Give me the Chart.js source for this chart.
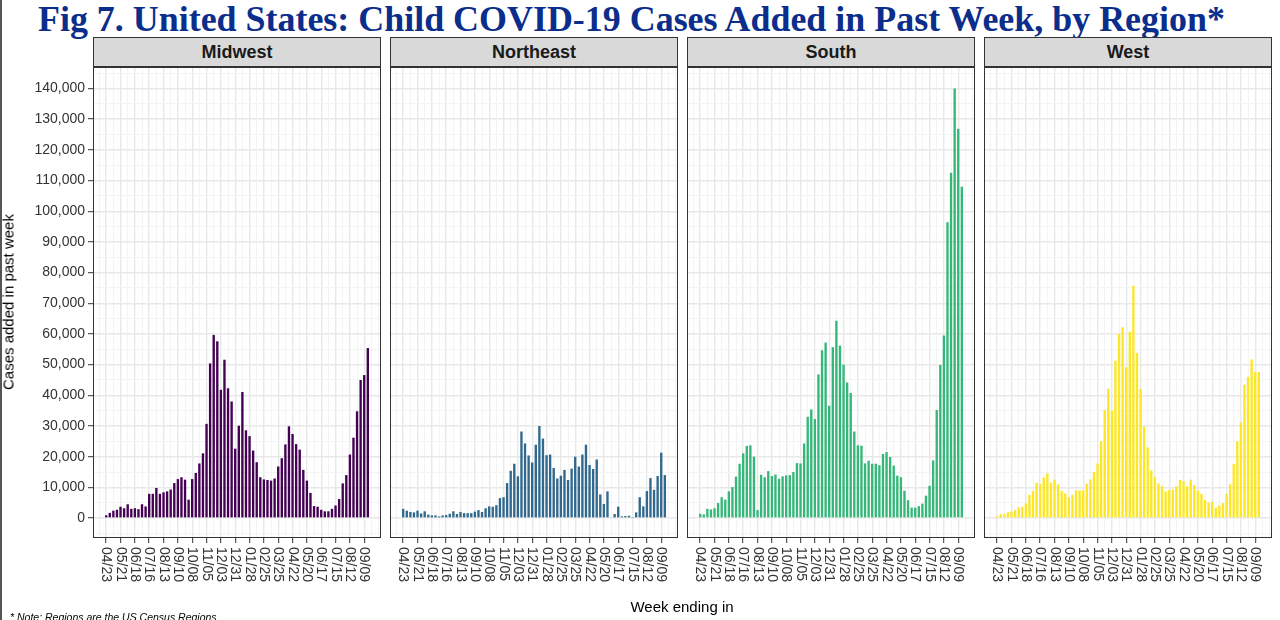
<!DOCTYPE html>
<html lang="en">
<head>
<meta charset="UTF-8">
<title>Fig 7. United States: Child COVID-19 Cases Added in Past Week, by Region</title>
<script src="https://cdn.jsdelivr.net/npm/chart.js@4"></script>
<style>
  body { margin: 0; width: 1280px; height: 620px; overflow: hidden; background: #fff; position: relative;
         font-family: "Liberation Sans", Arial, sans-serif; }
  .abs { position: absolute; }
  #edge { left: 0; top: 0; width: 2px; height: 620px; background: #555; }
  #title { left: 38px; top: 3px; font: bold 32px/32px "Liberation Serif", serif; color: #0b2d8b; white-space: nowrap; }
  .strip { top: 37px; width: 288px; height: 30px; box-sizing: border-box; border: 1px solid #333; background: #d9d9d9;
           font-weight: bold; font-size: 18px; line-height: 28px; color: #1a1a1a; text-align: center; }
  #ytitle { left: 8px; top: 302px; font-size: 15px; color: #000; white-space: nowrap;
            transform: translate(-50%, -50%) rotate(-90deg); }
  #xtitle { left: 682px; top: 606px; font-size: 15px; color: #000; white-space: nowrap; transform: translate(-50%, -50%); }
  #note { left: 10px; top: 611px; font-size: 10.5px; font-style: italic; color: #000; white-space: nowrap; }
</style>
</head>
<body>
<div id="edge" class="abs"></div>
<div id="title" class="abs">Fig 7. United States: Child COVID-19 Cases Added in Past Week, by Region*</div>

<div class="abs strip" style="left:93px">Midwest</div>
<div class="abs strip" style="left:390px">Northeast</div>
<div class="abs strip" style="left:687px">South</div>
<div class="abs strip" style="left:984px">West</div>

<canvas id="c0" class="abs" width="381" height="553" style="left:0;top:67px"></canvas>
<canvas id="c1" class="abs" width="288" height="553" style="left:390px;top:67px"></canvas>
<canvas id="c2" class="abs" width="288" height="553" style="left:687px;top:67px"></canvas>
<canvas id="c3" class="abs" width="288" height="553" style="left:984px;top:67px"></canvas>

<div id="ytitle" class="abs">Cases added in past week</div>
<div id="xtitle" class="abs">Week ending in</div>
<div id="note" class="abs">* Note: Regions are the US Census Regions</div>

<script>
// weekly bars, week ending 04/23/2020 ... 09/16/2021 (index = weeks since 04/23/2020)
const tickLabels = ['04/23', '05/21', '06/18', '07/16', '08/13', '09/10', '10/08', '11/05', '12/03', '12/31',
                    '01/28', '02/25', '03/25', '04/22', '05/20', '06/17', '07/15', '08/12', '09/09'];
const yTickValues = [0, 10000, 20000, 30000, 40000, 50000, 60000, 70000, 80000, 90000,
                     100000, 110000, 120000, 130000, 140000];

const regions = ['Midwest', 'Northeast', 'South', 'West'];
const regionColors = ['#440154', '#31688e', '#35b779', '#fde725'];

const midwest = [900, 1700, 2400, 2700, 3700, 3200, 4500, 3000, 3200, 2900,
                 4500, 3800, 7900, 7900, 9800, 7900, 8400, 8700, 9300, 11400,
                 12700, 13300, 12500, 6000, 12700, 14700, 17800, 21100, 30700, 50400,
                 59700, 57600, 41800, 51600, 42300, 38000, 22600, 30100, 41100, 28600,
                 26700, 22000, 18200, 13300, 12600, 12400, 12200, 12900, 16800, 19500,
                 24000, 29900, 27400, 24100, 22300, 15700, 12200, 8200, 3900, 3700,
                 2700, 2200, 2200, 3000, 4100, 6200, 11300, 14000, 20700, 26200,
                 34800, 45000, 46600, 55400];
const northeast = [3000, 2400, 2000, 1850, 2400, 1500, 2200, 1100, 870, 870,
                   540, 870, 980, 1400, 2200, 1300, 2000, 1600, 1600, 1600,
                   2100, 2600, 2000, 3200, 3800, 3700, 4200, 6500, 6800, 11400,
                   15400, 17700, 13600, 28200, 24300, 20400, 18100, 23900, 30000, 25900,
                   20500, 20700, 16300, 12900, 13800, 15700, 12400, 16100, 20000, 16800,
                   20700, 23900, 17300, 16000, 19100, 7700, 4600, 8700, 200, 1300,
                   3700, 540, 650, 760, 100, 1850, 6800, 3800, 8800, 13000,
                   9200, 13700, 21300, 14000];
const south = [1400, 1200, 3000, 2800, 3200, 4900, 6800, 6000, 8700, 10100,
               13500, 17700, 21100, 23500, 23700, 20000, 2600, 14100, 13300, 15300,
               13700, 14200, 12800, 13600, 13900, 14000, 15000, 17900, 17800, 24300,
               33000, 35400, 32300, 46800, 54700, 57200, 36600, 55700, 64300, 56200,
               50000, 44200, 40800, 28200, 23700, 23600, 17800, 18700, 17700, 17700,
               17200, 20900, 21500, 19900, 17100, 13800, 13300, 8900, 5800, 3400,
               3400, 3900, 4700, 7300, 10500, 18800, 35200, 49900, 59500, 96400,
               112500, 140000, 126900, 108000];
const west = [650, 1300, 1400, 1850, 2100, 2600, 3500, 3700, 4800, 7500,
              8800, 11500, 11200, 13200, 14600, 11500, 12500, 11000, 8800, 8000,
              6800, 7600, 9000, 9000, 9000, 11200, 12600, 15000, 17800, 25000,
              35200, 42100, 35000, 51300, 60000, 62200, 49200, 60700, 75700, 53800,
              42100, 29900, 23000, 15500, 13400, 11300, 10400, 8700, 9100, 9300,
              10300, 12400, 12000, 10300, 12500, 10800, 9000, 7900, 5900, 5100,
              5300, 3400, 4100, 4900, 7900, 11000, 17600, 25000, 31200, 43500,
              46000, 51700, 47600, 47600];

const series = [midwest, northeast, south, west];

// grid positions: every 2 weeks on x, every 5,000 on y (major on labelled ones)
const xGrid = [];
for (let v = -2; v <= 76; v += 2) xGrid.push(v);
const yGrid = [];
for (let v = -5000; v <= 145000; v += 5000) yGrid.push(v);

const CLEAR = 'rgba(0,0,0,0)';
const isXMajor = v => v % 4 === 0 && v >= 0 && v <= 72;
const isYMajor = v => yTickValues.includes(v);

const panelBorder = {
  id: 'panelBorder',
  afterDraw(chart) {
    const a = chart.chartArea, ctx = chart.ctx;
    ctx.save();
    ctx.strokeStyle = '#333';
    ctx.lineWidth = 1;
    ctx.strokeRect(a.left + 0.5, a.top + 0.5, a.right - a.left - 1, a.bottom - a.top - 1);
    ctx.restore();
  }
};

// date labels read top to bottom, as in the original
const weekLabels = {
  id: 'weekLabels',
  afterDraw(chart) {
    const ctx = chart.ctx, xs = chart.scales.x, y0 = chart.chartArea.bottom + 9;
    ctx.save();
    ctx.fillStyle = '#333';
    ctx.font = '14px "Liberation Sans", Arial, sans-serif';
    ctx.textAlign = 'left';
    ctx.textBaseline = 'middle';
    tickLabels.forEach((lab, i) => {
      ctx.save();
      ctx.translate(xs.getPixelForValue(i * 4), y0);
      ctx.rotate(Math.PI / 2);
      ctx.fillText(lab, 0, 0);
      ctx.restore();
    });
    ctx.restore();
  }
};

function makePanel(idx) {
  const first = idx === 0;
  new Chart(document.getElementById('c' + idx), {
    type: 'bar',
    data: {
      datasets: [{
        label: regions[idx],
        data: series[idx].map((v, i) => ({ x: i, y: v })),
        backgroundColor: regionColors[idx],
        borderWidth: 0,
        barPercentage: 0.66,
        categoryPercentage: 1
      }]
    },
    options: {
      responsive: false,
      animation: false,
      events: [],
      layout: { padding: 0 },
      plugins: { legend: { display: false }, tooltip: { enabled: false } },
      scales: {
        x: {
          type: 'linear', min: -3.68, max: 76.68, offset: false,
          afterBuildTicks: ax => { ax.ticks = xGrid.map(v => ({ value: v })); },
          afterFit: ax => { ax.height = 82; ax.paddingLeft = 0; ax.paddingRight = 0; },
          ticks: { display: false, autoSkip: false },
          border: { display: false },
          grid: {
            offset: false,
            color: c => isXMajor(c.tick.value) ? '#e8e8e8' : '#f1f1f1',
            lineWidth: c => isXMajor(c.tick.value) ? 1.4 : 0.8,
            tickColor: c => isXMajor(c.tick.value) ? '#333' : CLEAR,
            tickLength: 5, tickWidth: 1
          }
        },
        y: {
          min: -6500, max: 147000,
          afterBuildTicks: ax => { ax.ticks = yGrid.map(v => ({ value: v })); },
          afterFit: ax => { ax.width = first ? 93 : 0; ax.paddingTop = 0; ax.paddingBottom = 0; },
          ticks: {
            display: first, autoSkip: false, padding: 3, color: '#333',
            font: { family: '"Liberation Sans", Arial, sans-serif', size: 14 },
            callback: v => isYMajor(v) ? v.toLocaleString('en-US') : ''
          },
          border: { display: false },
          grid: {
            color: c => isYMajor(c.tick.value) ? '#e8e8e8' : '#f1f1f1',
            lineWidth: c => isYMajor(c.tick.value) ? 1.4 : 0.8,
            drawTicks: first,
            tickColor: c => isYMajor(c.tick.value) ? '#333' : CLEAR,
            tickLength: 5, tickWidth: 1
          }
        }
      }
    },
    plugins: [panelBorder, weekLabels]
  });
}

regions.forEach((r, i) => makePanel(i));

// stretch the title to the width it has in the figure
const title = document.getElementById('title');
const w = title.getBoundingClientRect().width;
title.style.fontSize = (32 * 1187 / w).toFixed(2) + 'px';
</script>
</body>
</html>
